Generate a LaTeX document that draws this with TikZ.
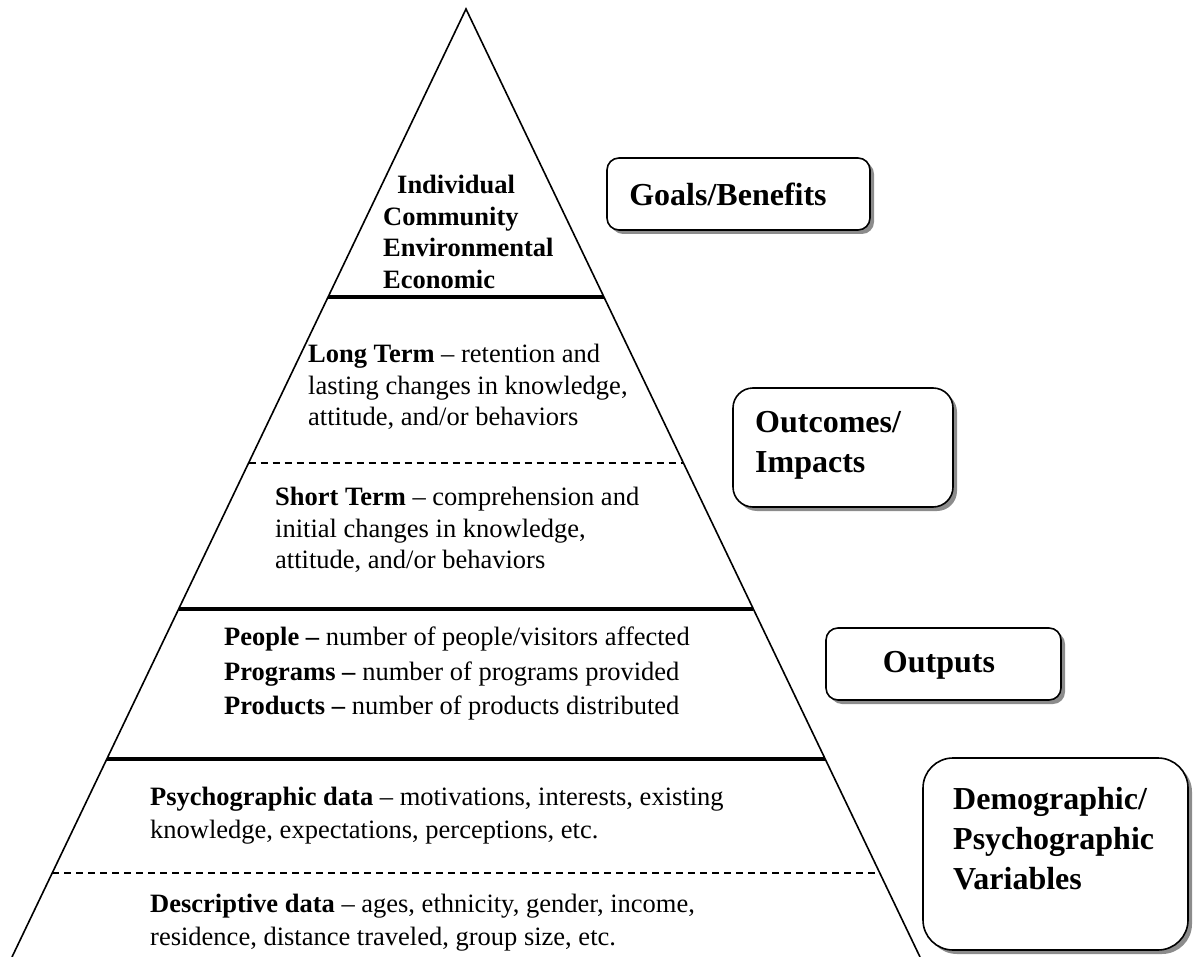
\documentclass[tikz,border=0pt]{standalone}
\usepackage{fontspec}
\setmainfont{Liberation Serif}
\usetikzlibrary{calc,shadows}

\tikzset{
  side/.style={line width=1.6pt},
  divider/.style={line width=4pt},
  dashdivider/.style={line width=1.2pt, dash pattern=on 7pt off 5pt},
  tier/.style={anchor=north west, inner sep=0pt, align=left,
               font=\fontsize{26.5}{31.5}\selectfont},
  levelbox/.style={draw, line width=1.6pt, fill=white,
                   drop shadow={shadow xshift=4pt, shadow yshift=-4pt, fill=black!45, opacity=1}},
  leveltext/.style={inner sep=0pt, align=left, font=\bfseries\fontsize{32}{40}\selectfont}
}

\begin{document}
\begin{tikzpicture}[x=1pt, y=-1pt]
                      \useasboundingbox (0,0) rectangle (1193,957);
                      % Draw Pyramid
                      \coordinate (apex) at (466,9);
                      \coordinate (bl) at (12,957);
                      \coordinate (br) at (920,957);
                      \draw[side] (bl) -- (apex) -- (br);
                      \foreach \t in {0.3038,0.6329,0.7911}
                          {
                              \draw[divider] ($(apex)!\t!(bl)$) -- ($(apex)!\t!(br)$);
                          }
                      \foreach \t in {0.4789,0.9114}
                          {
                              \draw[dashdivider] ($(apex)!\t!(bl)$) -- ($(apex)!\t!(br)$);
                          }
                      % Tier texts
                      \node[tier, font=\bfseries\fontsize{26.5}{31.5}\selectfont] (benefits) at (383,175)
                          {\hspace*{14pt}Individual\\Community\\Environmental\\Economic};
                      \node[tier] (longterm) at (308,344)
                          {\textbf{Long Term} -- retention and\\lasting changes in knowledge,\\attitude, and/or behaviors};
                      \node[tier] (shortterm) at (275,487)
                          {\textbf{Short Term} -- comprehension and\\initial changes in knowledge,\\attitude, and/or behaviors};
                      \node[tier, font=\fontsize{26.5}{34.5}\selectfont] (outputs) at (224,627)
                          {\textbf{People --} number of people/visitors affected\\
                           \textbf{Programs --} number of programs provided\\
                           \textbf{Products --} number of products distributed};
                      \node[tier, font=\fontsize{26.5}{33}\selectfont] (psycho) at (150,787)
                          {\textbf{Psychographic data} -- motivations, interests, existing\\knowledge, expectations, perceptions, etc.};
                      \node[tier, font=\fontsize{26.5}{33}\selectfont] (descr) at (150,894)
                          {\textbf{Descriptive data} -- ages, ethnicity, gender, income,\\residence, distance traveled, group size, etc.};
                      % Level boxes
                      \node[levelbox, rounded corners=12pt, minimum width=263pt, minimum height=72pt] (goalsbox) at (738.5,194) {};
                      \node[leveltext] (goals) at (728,194) {Goals/Benefits};
                      \node[levelbox, rounded corners=20pt, minimum width=220pt, minimum height=119pt] (outcomesbox) at (843,447.5) {};
                      \node[leveltext, anchor=west] (outcomes) at (755,445) {Outcomes/\\Impacts};
                      \node[levelbox, rounded corners=12pt, minimum width=235pt, minimum height=72pt] (outputsbox) at (943.5,664) {};
                      \node[leveltext] (outputslabel) at (939,665) {Outputs};
                      \node[levelbox, rounded corners=30pt, minimum width=265pt, minimum height=192pt] (variablesbox) at (1055.5,854) {};
                      \node[leveltext, anchor=west] (variables) at (953,839) {Demographic/\\Psychographic\\Variables};
                  \end{tikzpicture}
\end{document}
